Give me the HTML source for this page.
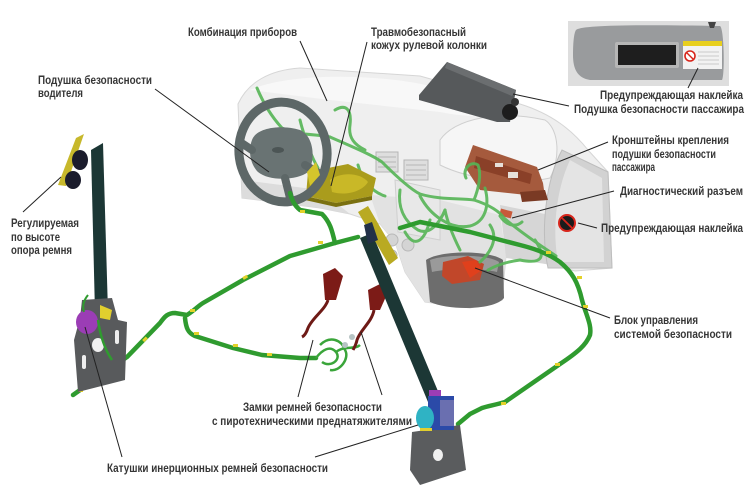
<!DOCTYPE html>
<html><head><meta charset="utf-8">
<style>
html,body{margin:0;padding:0;background:#fff;}
svg{display:block;}
.t{font-family:"Liberation Sans Narrow","Liberation Sans",sans-serif;font-weight:bold;font-size:12px;fill:#363636;}
</style></head>
<body>
<svg width="750" height="492" viewBox="0 0 750 492" xmlns="http://www.w3.org/2000/svg">
<rect width="750" height="492" fill="#fff"/>

<!-- ===== Dashboard body ===== -->
<path d="M238 104 C248 82 270 70 300 68 L420 76 L520 104 C552 114 572 130 588 150 L608 172 L612 268 L575 271 L540 262 L506 256 L502 300 L470 308 L425 302 L405 272 L395 242 L380 224 L350 214 L320 208 L242 198 Z" fill="#efefef" stroke="#d6d6d6" stroke-width="1"/>
<path d="M250 90 C290 72 380 74 430 86 L520 110 C500 118 470 118 440 112 L330 100 Z" fill="#f8f8f8"/>
<!-- glovebox outline -->
<path d="M440 140 C455 118 500 110 545 120 C560 130 560 160 550 178 C520 185 470 180 440 165 Z" fill="#f6f6f6" stroke="#cfcfcf" stroke-width="1"/>
<!-- lower centre console -->
<path d="M370 195 L440 200 L500 215 L506 256 L502 300 L470 308 L425 302 L405 272 L395 242 L380 224 Z" fill="#e2e2e2"/>
<path d="M395 180 L440 190 L440 240 L398 232 Z" fill="#e8e8e8" stroke="#cfcfcf"/>
<!-- vents -->
<g stroke="#b5b5b5" stroke-width="1">
<rect x="376" y="152" width="22" height="20" fill="#dedede"/>
<rect x="404" y="160" width="24" height="20" fill="#dedede"/>
<line x1="378" y1="157" x2="396" y2="157"/><line x1="378" y1="162" x2="396" y2="162"/><line x1="378" y1="167" x2="396" y2="167"/>
<line x1="406" y1="165" x2="426" y2="165"/><line x1="406" y1="170" x2="426" y2="170"/><line x1="406" y1="175" x2="426" y2="175"/>
</g>
<!-- knobs -->
<g fill="#d4d4d4" stroke="#b8b8b8">
<circle cx="392" cy="240" r="6"/><circle cx="408" cy="245" r="6"/><circle cx="392" cy="255" r="5"/>
</g>
<!-- lower right under glovebox -->
<path d="M500 205 L550 215 L552 265 L506 258 Z" fill="#d6d6d6"/>
<!-- right end panel -->
<path d="M562 150 C546 180 540 230 548 268 L612 268 L608 172 Z" fill="#d2d2d2" stroke="#bdbdbd"/>
<path d="M570 160 C556 190 552 230 558 262 L604 262 L602 178 Z" fill="#e4e4e4"/>
<!-- left under wheel -->
<path d="M242 180 L320 190 L350 214 L320 208 L242 198 Z" fill="#dcdcdc"/>

<!-- ECU housing -->
<path d="M426 260 C440 250 490 250 503 260 L504 298 C495 310 450 311 430 302 Z" fill="#6d6d6d"/>
<path d="M430 260 C445 254 488 254 499 262 L497 272 C480 268 450 268 432 272 Z" fill="#9a9a9a"/>
<!-- ECU -->
<path d="M443 262 L468 256 L484 264 L480 280 L452 284 L442 276 Z" fill="#c1472a"/>
<path d="M462 262 L476 260 L482 270 L470 278 Z" fill="#e0401c"/>

<!-- Passenger airbag -->
<path d="M419 95 L447 62 L516 90 L510 122 L497 122 L419 100 Z" fill="#56595b"/>
<path d="M447 62 L516 90 L512 96 L445 68 Z" fill="#6b6e70"/>
<circle cx="510" cy="112" r="8" fill="#1d1d1d"/>
<circle cx="515" cy="102" r="4" fill="#333"/>

<!-- Passenger airbag brackets -->
<path d="M465 167 L473 145 L537 167 L543 183 L545 197 L480 190 Z" fill="#a55a3d"/>
<path d="M476 156 L532 174 L530 184 L474 168 Z" fill="#8a4028"/>
<rect x="508" y="172" width="10" height="6" fill="#e6e0da"/>
<rect x="495" y="163" width="8" height="4" fill="#e6e0da"/>
<path d="M520 192 L545 190 L548 200 L522 202 Z" fill="#7a3a24"/>

<!-- diag connector -->
<rect x="500" y="210" width="12" height="7" fill="#c85a3a" transform="rotate(15 506 213)"/>

<!-- warning sticker right -->
<circle cx="567" cy="223" r="8" fill="#1b1b1b" stroke="#d8261c" stroke-width="2"/>
<line x1="562" y1="218" x2="572" y2="228" stroke="#d8261c" stroke-width="1.8"/>

<!-- ===== harness inside dashboard (light green) ===== -->
<g fill="none" stroke="#56b556" stroke-width="3" stroke-linecap="round" opacity="0.9">
<path d="M330 137 C355 148 372 155 382 162 C400 180 412 190 420 194 C440 200 460 198 474 200 C490 205 500 212 504 218 C520 232 540 245 556 256"/>
<path d="M257 88 C262 100 270 115 282 128 C300 136 318 134 330 137"/>
<path d="M335 110 C345 104 352 108 350 125 C348 138 355 145 365 150"/>
<path d="M358 165 C362 180 372 192 385 196"/>
<path d="M400 190 C398 205 402 220 418 230 C430 236 440 222 445 210"/>
<path d="M420 196 C430 215 450 230 470 226 C485 222 490 206 485 188"/>
<path d="M474 200 C478 190 482 175 478 165 C470 160 462 170 466 178"/>
<path d="M445 210 C448 225 455 240 460 250"/>
<path d="M490 225 C500 240 488 255 480 262"/>
<path d="M500 216 C506 225 515 228 522 222"/>
<path d="M535 240 C545 255 545 265 520 260 C505 262 495 266 488 270"/>
<path d="M430 220 C425 240 415 250 405 232"/>
<path d="M300 120 C305 140 312 158 318 168"/>
</g>

<!-- ===== Steering wheel & shroud ===== -->
<path d="M308 172 L348 164 L376 178 L372 196 L336 203 L306 196 Z" fill="#aa9c1c"/>
<path d="M330 180 C340 172 360 172 368 182 C362 192 345 196 332 192 Z" fill="#c9b827"/>
<path d="M305 196 L336 203 L372 196 L372 200 L336 207 L305 200 Z" fill="#7a7010"/>
<ellipse cx="283" cy="152" rx="44" ry="50" fill="none" stroke="#5d6767" stroke-width="9" transform="rotate(-8 283 152)"/>
<path d="M252 140 C256 128 280 124 300 130 C314 136 316 160 308 172 C298 180 270 182 258 172 C250 164 248 150 252 140 Z" fill="#697373"/>
<path d="M252 150 L240 142 M305 165 L322 175 M285 178 L290 198" stroke="#5d6767" stroke-width="8" stroke-linecap="round"/>
<ellipse cx="278" cy="150" rx="6" ry="3" fill="#4c5555"/>
<path d="M307 172 L316 162 L320 175 L310 186 Z" fill="#d4c52c"/>

<!-- ===== Main harness (dark green) ===== -->
<g fill="none" stroke="#2f9b2f" stroke-width="4.5" stroke-linecap="round" stroke-linejoin="round">
<path d="M73 395 L127 357 L160 323 C165 316 168 313 175 313 L187 315 C195 310 198 306 203 303 L243 280 L290 256 L335 243 L358 237"/>
<path d="M185 318 C186 328 188 333 195 336 L233 348 L262 355 L300 358 L316 358"/>
<path d="M335 243 C332 230 330 222 322 214 L300 210 C294 205 292 200 290 193"/>
<path d="M400 228 L420 222 L470 232 L520 245 C540 250 552 256 560 262 C572 272 578 282 582 300 C586 315 592 325 590 335 C586 345 578 352 560 364 L505 402 C495 405 488 406 482 408 L470 414 L458 424"/>
</g>
<!-- harness tape marks -->
<g fill="#e3d22a">
<rect x="103" y="370" width="5" height="3" transform="rotate(-35 105 371)"/>
<rect x="143" y="338" width="5" height="3" transform="rotate(-45 145 340)"/>
<rect x="190" y="309" width="5" height="3"/>
<rect x="243" y="276" width="5" height="3" transform="rotate(-30 245 278)"/>
<rect x="194" y="332" width="5" height="3"/>
<rect x="233" y="344" width="5" height="3"/>
<rect x="267" y="353" width="5" height="3"/>
<rect x="300" y="210" width="5" height="3"/>
<rect x="318" y="241" width="5" height="3"/>
<rect x="546" y="251" width="5" height="3"/>
<rect x="577" y="276" width="5" height="3"/>
<rect x="583" y="305" width="5" height="3"/>
<rect x="555" y="363" width="5" height="3"/>
<rect x="501" y="402" width="5" height="3"/>
<rect x="78" y="389" width="5" height="3"/>
</g>

<!-- ===== Buckles cluster ===== -->
<g fill="none" stroke="#3aa53a" stroke-width="2.5">
<path d="M316 358 C322 350 330 345 336 352 C342 360 330 368 322 362"/>
<path d="M320 345 C330 335 342 340 345 350 C350 358 340 372 330 370"/>
<path d="M336 352 C345 345 355 350 360 345"/>
</g>
<circle cx="345" cy="345" r="3" fill="#b7c4c4"/>
<circle cx="352" cy="337" r="3" fill="#b7c4c4"/>
<path d="M323 274 L335 268 L343 276 L336 300 L325 300 Z" fill="#7c1b17"/>
<path d="M328 300 C325 310 312 318 308 328 C306 334 304 336 302 337" fill="none" stroke="#6e1a16" stroke-width="3"/>
<path d="M368 290 L380 284 L388 292 L380 310 L370 310 Z" fill="#7c1b17"/>
<path d="M374 310 C372 322 360 330 357 340 C356 345 354 348 353 350" fill="none" stroke="#6e1a16" stroke-width="3"/>

<!-- ===== Left belt ===== -->
<path d="M91 150 L103 143 L108 312 L95 313 Z" fill="#1c3735"/>
<path d="M76 138 L84 134 L66 186 L58 185 Z" fill="#c7b82b"/>
<ellipse cx="80" cy="160" rx="8" ry="10" fill="#1b1c2c"/>
<ellipse cx="73" cy="180" rx="8" ry="9" fill="#1b1c2c"/>
<!-- left reel bracket -->
<path d="M82 300 L112 298 L118 320 L127 322 L125 380 L78 392 L74 340 L80 318 Z" fill="#585a5c"/>
<ellipse cx="98" cy="345" rx="6" ry="7" fill="#f0f0f0"/>
<rect x="82" y="355" width="4" height="14" rx="2" fill="#eee"/>
<rect x="115" y="330" width="4" height="14" rx="2" fill="#eee"/>
<ellipse cx="87" cy="322" rx="11" ry="12" fill="#9b3db5"/>
<path d="M100 305 L112 310 L110 320 L100 318 Z" fill="#e1cf2e"/>
<path d="M88 295 C84 300 82 305 84 312" fill="none" stroke="#2f9b2f" stroke-width="2"/>
<path d="M98 320 C100 335 105 350 112 360" fill="none" stroke="#2f9b2f" stroke-width="2.5"/>

<!-- ===== Right belt ===== -->
<path d="M360 238 L372 233 L440 396 L428 402 Z" fill="#1c3735"/>
<path d="M358 212 L368 206 L398 258 L389 265 Z" fill="#b9aa22"/>
<path d="M364 225 L372 222 L378 240 L368 244 Z" fill="#223048"/>
<!-- right reel -->
<path d="M412 432 L460 425 L466 470 L420 485 L410 470 Z" fill="#5a5c5e"/>
<ellipse cx="438" cy="455" rx="5" ry="6" fill="#f0f0f0"/>
<rect x="428" y="396" width="26" height="34" fill="#2b4aa8"/>
<rect x="440" y="400" width="14" height="26" fill="#6a6fb0"/>
<ellipse cx="425" cy="418" rx="9" ry="12" fill="#2fb3c4"/>
<rect x="429" y="390" width="12" height="6" fill="#9b3db5"/>
<rect x="420" y="428" width="12" height="3" fill="#e1cf2e"/>

<!-- ===== Sun visor inset ===== -->
<rect x="568" y="21" width="161" height="65" fill="#dedede"/>
<path d="M576 30 C580 26 620 24 720 26 C724 28 725 74 722 80 L590 80 C578 78 573 70 573 55 C573 42 574 33 576 30 Z" fill="#999b9d"/>
<rect x="615" y="42" width="64" height="26" rx="2" fill="#b6b6b6"/>
<rect x="618" y="45" width="58" height="20" fill="#1e1e1e"/>
<rect x="683" y="41" width="39" height="28" fill="#f2f2f2"/>
<rect x="683" y="41" width="39" height="5" fill="#e8cf1e"/>
<circle cx="690" cy="56" r="5" fill="#fff" stroke="#d8261c" stroke-width="1.6"/>
<line x1="687" y1="53" x2="693" y2="59" stroke="#d8261c" stroke-width="1.4"/>
<g stroke="#bbb" stroke-width="0.8"><line x1="698" y1="52" x2="719" y2="52"/><line x1="698" y1="56" x2="719" y2="56"/><line x1="698" y1="60" x2="719" y2="60"/><line x1="698" y1="64" x2="719" y2="64"/></g>
<path d="M708 22 L716 22 L714 28 L710 28 Z" fill="#444"/>

<!-- ===== Leader lines ===== -->
<g stroke="#222" stroke-width="1" fill="none">
<line x1="300" y1="41" x2="327" y2="101"/>
<line x1="367" y1="42" x2="331" y2="186"/>
<line x1="155" y1="89" x2="269" y2="172"/>
<line x1="23" y1="212" x2="61" y2="177"/>
<line x1="513" y1="94" x2="569" y2="106"/>
<line x1="698" y1="68" x2="688" y2="88"/>
<line x1="608" y1="142" x2="538" y2="170"/>
<line x1="614" y1="191" x2="512" y2="218"/>
<line x1="578" y1="223" x2="597" y2="228"/>
<line x1="475" y1="268" x2="610" y2="318"/>
<line x1="298" y1="397" x2="313" y2="340"/>
<line x1="382" y1="395" x2="361" y2="332"/>
<line x1="122" y1="457" x2="85" y2="327"/>
<line x1="315" y1="457" x2="418" y2="425"/>
</g>

<!-- ===== Labels ===== -->
<text class="t" x="188" y="36" textLength="109" lengthAdjust="spacingAndGlyphs">Комбинация приборов</text>
<text class="t" x="371" y="36" textLength="95" lengthAdjust="spacingAndGlyphs">Травмобезопасный</text>
<text class="t" x="371" y="49" textLength="116" lengthAdjust="spacingAndGlyphs">кожух рулевой колонки</text>
<text class="t" x="38" y="84" textLength="114" lengthAdjust="spacingAndGlyphs">Подушка безопасности</text>
<text class="t" x="38" y="97" textLength="45" lengthAdjust="spacingAndGlyphs">водителя</text>
<text class="t" x="11" y="227" textLength="68" lengthAdjust="spacingAndGlyphs">Регулируемая</text>
<text class="t" x="11" y="241" textLength="49" lengthAdjust="spacingAndGlyphs">по высоте</text>
<text class="t" x="11" y="254" textLength="61" lengthAdjust="spacingAndGlyphs">опора ремня</text>
<text class="t" x="600" y="99" textLength="143" lengthAdjust="spacingAndGlyphs">Предупреждающая наклейка</text>
<text class="t" x="574" y="113" textLength="170" lengthAdjust="spacingAndGlyphs">Подушка безопасности пассажира</text>
<text class="t" x="612" y="144" textLength="117" lengthAdjust="spacingAndGlyphs">Кронштейны крепления</text>
<text class="t" x="612" y="158" textLength="104" lengthAdjust="spacingAndGlyphs">подушки безопасности</text>
<text class="t" x="612" y="171" textLength="43" lengthAdjust="spacingAndGlyphs">пассажира</text>
<text class="t" x="620" y="195" textLength="123" lengthAdjust="spacingAndGlyphs">Диагностический разъем</text>
<text class="t" x="601" y="232" textLength="142" lengthAdjust="spacingAndGlyphs">Предупреждающая наклейка</text>
<text class="t" x="614" y="324" textLength="84" lengthAdjust="spacingAndGlyphs">Блок управления</text>
<text class="t" x="614" y="338" textLength="118" lengthAdjust="spacingAndGlyphs">системой безопасности</text>
<text class="t" x="243" y="411" textLength="139" lengthAdjust="spacingAndGlyphs">Замки ремней безопасности</text>
<text class="t" x="212" y="425" textLength="200" lengthAdjust="spacingAndGlyphs">с пиротехническими преднатяжителями</text>
<text class="t" x="107" y="472" textLength="221" lengthAdjust="spacingAndGlyphs">Катушки инерционных ремней безопасности</text>
</svg>
</body></html>
